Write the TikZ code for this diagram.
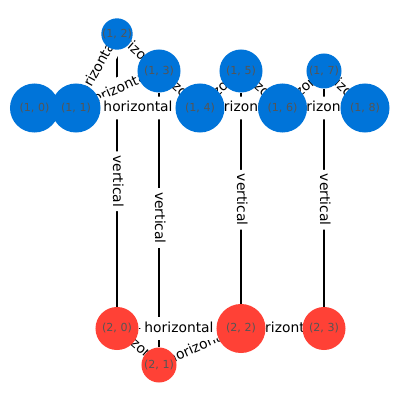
\documentclass[tikz,border=0pt]{standalone}
\usepackage{fontspec}
\setmainfont{DejaVu Sans}
\usetikzlibrary{positioning}
\definecolor{nodeblue}{HTML}{0074D9}
\definecolor{nodered}{HTML}{FF4136}
\definecolor{idgray}{HTML}{555555}
\pgfdeclarelayer{edgelayer}
\pgfdeclarelayer{labellayer}
\pgfsetlayers{edgelayer,labellayer,main}

\begin{document}
\begin{tikzpicture}[
    x=0.01in, y=-0.01in,
    vertex/.style={circle, inner sep=0pt, minimum size=#1, text=idgray, font=\fontsize{8}{9.6}\selectfont},
    upper/.style={vertex=#1, fill=nodeblue},
    lower/.style={vertex=#1, fill=nodered},
    edge/.style={draw, line width=1pt, color=black},
    weight/.style={fill=white, rounded corners=3pt, inner sep=3pt, text height=8pt, text depth=2.5pt, font=\fontsize{10}{12}\selectfont, sloped, midway}
]
\useasboundingbox (0,0) rectangle (400,400);

% Define node positions
\node[upper=0.49in] (u0) at (34.5, 108) {(1, 0)};
\node[upper=0.49in] (u1) at (76, 108) {(1, 1)};
\node[upper=0.23in] (u2) at (117, 34) {(1, 2)};
\node[upper=0.43in] (u3) at (159, 71) {(1, 3)};
\node[upper=0.49in] (u4) at (200, 108) {(1, 4)};
\node[upper=0.43in] (u5) at (241, 71) {(1, 5)};
\node[upper=0.49in] (u6) at (282.5, 108) {(1, 6)};
\node[upper=0.35in] (u7) at (324, 71) {(1, 7)};
\node[upper=0.49in] (u8) at (365, 108) {(1, 8)};

\node[lower=0.43in] (l0) at (117, 328.5) {(2, 0)};
\node[lower=0.35in] (l1) at (159, 365) {(2, 1)};
\node[lower=0.49in] (l2) at (241, 328.5) {(2, 2)};
\node[lower=0.43in] (l3) at (324, 328.5) {(2, 3)};

% Horizontal edges with labels
\foreach \a/\b in {u1/u2, u2/u3, u1/u3, u1/u4, u3/u4, u4/u5, u5/u6, u4/u6, u6/u7, u7/u8, u6/u8, l0/l1, l1/l2, l0/l2, l2/l3} {
    \begin{pgfonlayer}{edgelayer}
    \draw[edge] (\a) -- (\b);
    \end{pgfonlayer}
    \begin{pgfonlayer}{labellayer}
    \path (\a.center) -- (\b.center) node[weight] {horizontal};
    \end{pgfonlayer}
}

% Vertical edges with labels
\foreach \a/\b in {u2/l0, u3/l1, u5/l2, u7/l3} {
    \begin{pgfonlayer}{edgelayer}
    \draw[edge] (\a) -- (\b);
    \end{pgfonlayer}
    \begin{pgfonlayer}{labellayer}
    \path (\a.center) -- (\b.center) node[weight] {vertical};
    \end{pgfonlayer}
}

\end{tikzpicture}
\end{document}
